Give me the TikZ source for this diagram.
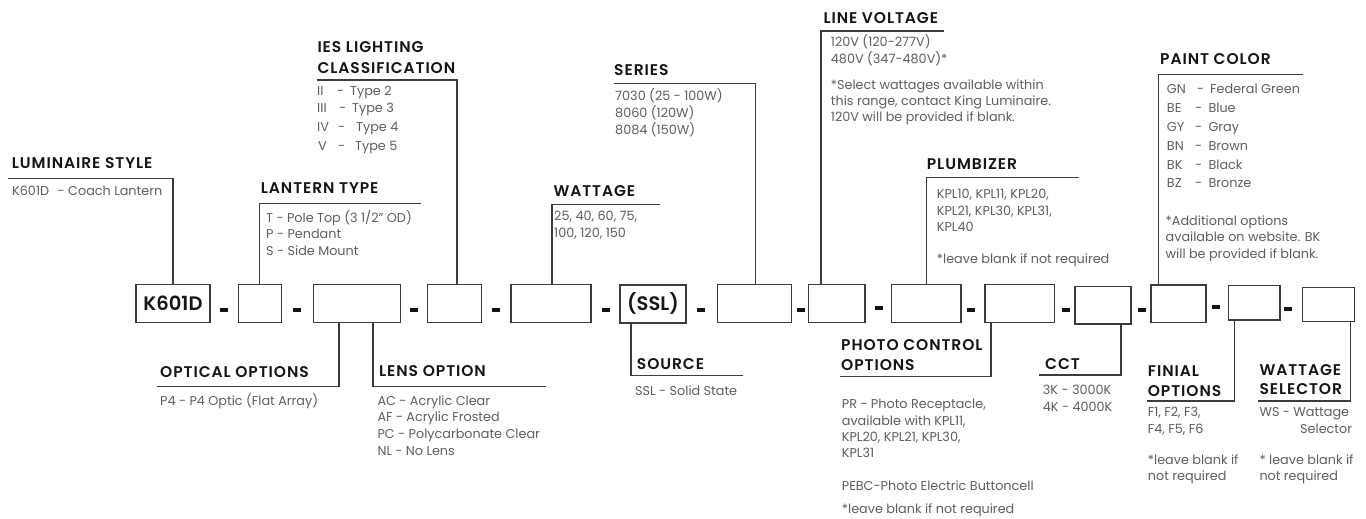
\documentclass[tikz,border=0pt]{standalone}
\usepackage{fontspec}
\setmainfont{Poppins}
\IfFontExistsTF{Poppins SemiBold}
  {\newfontfamily\ttlfont{Poppins SemiBold}[LetterSpace=6]\newfontfamily\boxfont{Poppins SemiBold}\let\ttlweight\relax}
  {\newfontfamily\ttlfont{Poppins}[LetterSpace=6]\newfontfamily\boxfont{Poppins}\let\ttlweight\bfseries}
\definecolor{bodygray}{HTML}{5E5E5E}
\definecolor{ttlblack}{HTML}{151515}
\definecolor{linegray}{HTML}{3C3C3C}
\tikzset{
  body/.style={anchor=base west, inner sep=0pt, text=bodygray, font=\fontsize{12.8}{15}\selectfont},
  bodyr/.style={anchor=base east, inner sep=0pt, text=bodygray, font=\fontsize{12.8}{15}\selectfont},
  ttl/.style={anchor=base west, inner sep=0pt, text=ttlblack, font=\fontsize{15.5}{18}\selectfont\ttlfont\ttlweight},
  codebox/.style={draw=linegray, line width=1.4pt, inner sep=0pt, minimum height=38, text=ttlblack, font=\fontsize{19.5}{22}\selectfont\boxfont\ttlweight},
  dashbar/.style={fill=ttlblack, inner sep=0pt, minimum width=8, minimum height=4.2},
  leader/.style={draw=linegray, line width=1.5pt}
}
\begin{document}
\begin{tikzpicture}[x=1pt,y=-1pt]
\useasboundingbox (0,0) rectangle (1366,519);
% ---- code boxes ----
\node[codebox, minimum width=74] (b1) at (173,303.5) {K601D};
\node[codebox, minimum width=43.4] (b2) at (260,303.5) {};
\node[codebox, minimum width=87.4] (b3) at (357,303.5) {};
\node[codebox, minimum width=54.4] (b4) at (454.5,303.5) {};
\node[codebox, minimum width=80] (b5) at (551,303.5) {};
\node[codebox, minimum width=66] (b6) at (653,303.8) {(SSL)};
\node[codebox, minimum width=74] (b7) at (754.7,303.5) {};
\node[codebox, minimum width=56.7] (b8) at (836.7,303.5) {};
\node[codebox, minimum width=69.3] (b9) at (926.3,303.5) {};
\node[codebox, minimum width=69.3] (b10) at (1019.7,303.5) {};
\node[codebox, minimum width=56, minimum height=37.3] (b11) at (1103,305.3) {};
\node[codebox, minimum width=55, minimum height=37.3] (b12) at (1178.5,303.7) {};
\node[codebox, minimum width=51.7, minimum height=34.3] (b13) at (1254.2,302.8) {};
\node[codebox, minimum width=52, minimum height=34.4] (b14) at (1328.3,304.5) {};
% ---- dashes ----
\node[dashbar] (d1) at (224,310) {};
\node[dashbar] (d2) at (296.5,310) {};
\node[dashbar] (d3) at (413.5,310) {};
\node[dashbar] (d4) at (496,310) {};
\node[dashbar] (d5) at (605.5,310) {};
\node[dashbar] (d6) at (701,310) {};
\node[dashbar] (d7) at (801,310) {};
\node[dashbar] (d8) at (879,308) {};
\node[dashbar] (d9) at (971,310) {};
\node[dashbar] (d10) at (1066,310) {};
\node[dashbar] (d11) at (1142,310) {};
\node[dashbar] (d12) at (1215.5,307) {};
\node[dashbar] (d13) at (1288.3,309) {};
% ---- leader corners and ends ----
\coordinate (lumC) at (173,178.3);   \coordinate (lumE) at (8,178.3);
\coordinate (lanC) at (259.3,203.3); \coordinate (lanE) at (421,203.3);
\coordinate (iesC) at (457,80);      \coordinate (iesE) at (317,80);
\coordinate (optC) at (339,386.7);   \coordinate (optE) at (157,386.7);
\coordinate (lenC) at (373,386.7);   \coordinate (lenE) at (545.7,386.7);
\coordinate (watC) at (552,204.3);   \coordinate (watE) at (660,204.3);
\coordinate (serC) at (755.7,83.3);  \coordinate (serE) at (614,83.3);
\coordinate (srcC) at (631,375.7);   \coordinate (srcE) at (743.3,375.7);
\coordinate (lvC) at (821,31);       \coordinate (lvE) at (944.3,31);
\coordinate (plC) at (926.7,177.7);  \coordinate (plE) at (1079.3,177.7);
\coordinate (phC) at (991,376.7);    \coordinate (phE) at (840,376.7);
\coordinate (cctC) at (1121,375);    \coordinate (cctE) at (1039.3,375);
\coordinate (pcC) at (1158.3,74.3);  \coordinate (pcE) at (1302.7,74.3);
\coordinate (fiC) at (1234.3,401);   \coordinate (fiE) at (1147.3,401);
\coordinate (wsC) at (1350.7,401);   \coordinate (wsE) at (1258.3,401);
% ---- leaders ----
\draw[leader] (b1.north -| lumC) -- (lumC) -- (lumE);
\draw[leader] (b2.north -| lanC) -- (lanC) -- (lanE);
\draw[leader] (b4.north -| iesC) -- (iesC) -- (iesE);
\draw[leader] (b3.south -| optC) -- (optC) -- (optE);
\draw[leader] (b3.south -| lenC) -- (lenC) -- (lenE);
\draw[leader] (b5.north -| watC) -- (watC) -- (watE);
\draw[leader] (b7.north -| serC) -- (serC) -- (serE);
\draw[leader] (b6.south -| srcC) -- (srcC) -- (srcE);
\draw[leader] (b8.north -| lvC) -- (lvC) -- (lvE);
\draw[leader] (b9.north -| plC) -- (plC) -- (plE);
\draw[leader] (b10.south -| phC) -- (phC) -- (phE);
\draw[leader] (b11.south -| cctC) -- (cctC) -- (cctE);
\draw[leader] (b12.north -| pcC) -- (pcC) -- (pcE);
\draw[leader] (b13.south -| fiC) -- (fiC) -- (fiE);
\draw[leader] (b14.south -| wsC) -- (wsC) -- (wsE);
% ---- LUMINAIRE STYLE ----
\node[ttl] (t-lum) at (11.7,168.3) {LUMINAIRE STYLE};
\node[body] (x-lum) at (12,195) {K601D\hspace{0.4em} - Coach Lantern};
% ---- LANTERN TYPE ----
\node[ttl] (t-lan) at (260.7,193.3) {LANTERN TYPE};
\node[body] (x-lan1) at (266,222) {T - Pole Top (3 1/2" OD)};
\node[body] (x-lan2) at (266,238.5) {P - Pendant};
\node[body] (x-lan3) at (266,255) {S - Side Mount};
% ---- IES ----
\node[ttl] (t-ies1) at (317.3,52.7) {IES LIGHTING};
\node[ttl] (t-ies2) at (317.3,73.3) {CLASSIFICATION};
\node[body] (x-ies1a) at (317,95.7) {II}; \node[body] (x-ies1b) at (337,95.7) {-}; \node[body] (x-ies1c) at (350,95.7) {Type 2};
\node[body] (x-ies2a) at (317,113) {III}; \node[body] (x-ies2b) at (339,113) {-}; \node[body] (x-ies2c) at (352,113) {Type 3};
\node[body] (x-ies3a) at (317,131.7) {IV}; \node[body] (x-ies3b) at (338,131.7) {-}; \node[body] (x-ies3c) at (356,131.7) {Type 4};
\node[body] (x-ies4a) at (318,150) {V}; \node[body] (x-ies4b) at (338,150) {-}; \node[body] (x-ies4c) at (355,150) {Type 5};
% ---- OPTICAL ----
\node[ttl] (t-opt) at (160,377) {OPTICAL OPTIONS};
\node[body] (x-opt) at (160,405) {P4 - P4 Optic (Flat Array)};
% ---- LENS ----
\node[ttl] (t-len) at (379,376.7) {LENS OPTION};
\node[body] (x-len1) at (377.3,405) {AC - Acrylic Clear};
\node[body] (x-len2) at (377.3,421.7) {AF - Acrylic Frosted};
\node[body] (x-len3) at (377.3,438.3) {PC - Polycarbonate Clear};
\node[body] (x-len4) at (377.3,455) {NL - No Lens};
% ---- WATTAGE ----
\node[ttl] (t-wat) at (553.3,196) {WATTAGE};
\node[body] (x-wat1) at (554,220.7) {25, 40, 60, 75,};
\node[body] (x-wat2) at (554,237.3) {100, 120, 150};
% ---- SERIES ----
\node[ttl] (t-ser) at (614,76) {SERIES};
\node[body] (x-ser1) at (615,100.7) {7030 (25 - 100W)};
\node[body] (x-ser2) at (615,117.7) {8060 (120W)};
\node[body] (x-ser3) at (615,134) {8084 (150W)};
% ---- SOURCE ----
\node[ttl] (t-src) at (636.7,369.3) {SOURCE};
\node[body] (x-src) at (635,395) {SSL - Solid State};
% ---- LINE VOLTAGE ----
\node[ttl] (t-lv) at (823.3,24) {LINE VOLTAGE};
\node[body] (x-lv1) at (830.7,46.7) {120V (120-277V)};
\node[body] (x-lv2) at (830.7,63.3) {480V (347-480V)*};
\node[body] (x-lv3) at (830.7,89.3) {*Select wattages available within};
\node[body] (x-lv4) at (830.7,105.7) {this range, contact King Luminaire.};
\node[body] (x-lv5) at (830.7,121.7) {120V will be provided if blank.};
% ---- PLUMBIZER ----
\node[ttl] (t-pl) at (926.7,169) {PLUMBIZER};
\node[body] (x-pl1) at (936.7,198.3) {KPL10, KPL11, KPL20,};
\node[body] (x-pl2) at (936.7,215) {KPL21, KPL30, KPL31,};
\node[body] (x-pl3) at (936.7,231.7) {KPL40};
\node[body] (x-pl4) at (936.7,263.3) {*leave blank if not required};
% ---- PHOTO CONTROL ----
\node[ttl] (t-ph1) at (841,350.7) {PHOTO CONTROL};
\node[ttl] (t-ph2) at (841,370.7) {OPTIONS};
\node[body] (x-ph1) at (841.7,408.3) {PR - Photo Receptacle,};
\node[body] (x-ph2) at (841.7,425) {available with KPL11,};
\node[body] (x-ph3) at (841.7,441.7) {KPL20, KPL21, KPL30,};
\node[body] (x-ph4) at (841.7,457.3) {KPL31};
\node[body] (x-ph5) at (841.7,490) {PEBC-Photo Electric Buttoncell};
\node[body] (x-ph6) at (841.7,513.3) {*leave blank if not required};
% ---- CCT ----
\node[ttl] (t-cct) at (1045,369) {CCT};
\node[body] (x-cct1) at (1042.7,394.3) {3K - 3000K};
\node[body] (x-cct2) at (1042.7,411) {4K - 4000K};
% ---- PAINT COLOR ----
\node[ttl] (t-pc) at (1160,65) {PAINT COLOR};
\node[body] (x-pc1a) at (1166.7,93.3) {GN}; \node[body] (x-pc1b) at (1197,93.3) {-}; \node[body] (x-pc1c) at (1210,93.3) {Federal Green};
\node[body] (x-pc2a) at (1166.7,112.7) {BE}; \node[body] (x-pc2b) at (1195,112.7) {-}; \node[body] (x-pc2c) at (1208.3,112.7) {Blue};
\node[body] (x-pc3a) at (1166.7,131.7) {GY}; \node[body] (x-pc3b) at (1195,131.7) {-}; \node[body] (x-pc3c) at (1208.3,131.7) {Gray};
\node[body] (x-pc4a) at (1166.7,150.7) {BN}; \node[body] (x-pc4b) at (1195,150.7) {-}; \node[body] (x-pc4c) at (1208.3,150.7) {Brown};
\node[body] (x-pc5a) at (1166.7,169) {BK}; \node[body] (x-pc5b) at (1195,169) {-}; \node[body] (x-pc5c) at (1208.3,169) {Black};
\node[body] (x-pc6a) at (1166.7,187.7) {BZ}; \node[body] (x-pc6b) at (1195,187.7) {-}; \node[body] (x-pc6c) at (1208.3,187.7) {Bronze};
\node[body] (x-pc7) at (1165.5,225) {*Additional options};
\node[body] (x-pc8) at (1165.5,241.5) {available on website. BK};
\node[body] (x-pc9) at (1165.5,258) {will be provided if blank.};
% ---- FINIAL ----
\node[ttl] (t-fi1) at (1147.7,376) {FINIAL};
\node[ttl] (t-fi2) at (1147.7,396) {OPTIONS};
\node[body] (x-fi1) at (1147.7,416.7) {F1, F2, F3,};
\node[body] (x-fi2) at (1147.7,433.3) {F4, F5, F6};
\node[body] (x-fi3) at (1147.7,464) {*leave blank if};
\node[body] (x-fi4) at (1147.7,480) {not required};
% ---- WATTAGE SELECTOR ----
\node[ttl] (t-ws1) at (1259.3,375) {WATTAGE};
\node[ttl] (t-ws2) at (1259.3,394) {SELECTOR};
\node[body] (x-ws1) at (1259.3,416.7) {WS - Wattage};
\node[bodyr] (x-ws2) at (1352.3,433.3) {Selector};
\node[body] (x-ws3) at (1259.3,464) {* leave blank if};
\node[body] (x-ws4) at (1259.3,480) {not required};
\end{tikzpicture}
\end{document}
